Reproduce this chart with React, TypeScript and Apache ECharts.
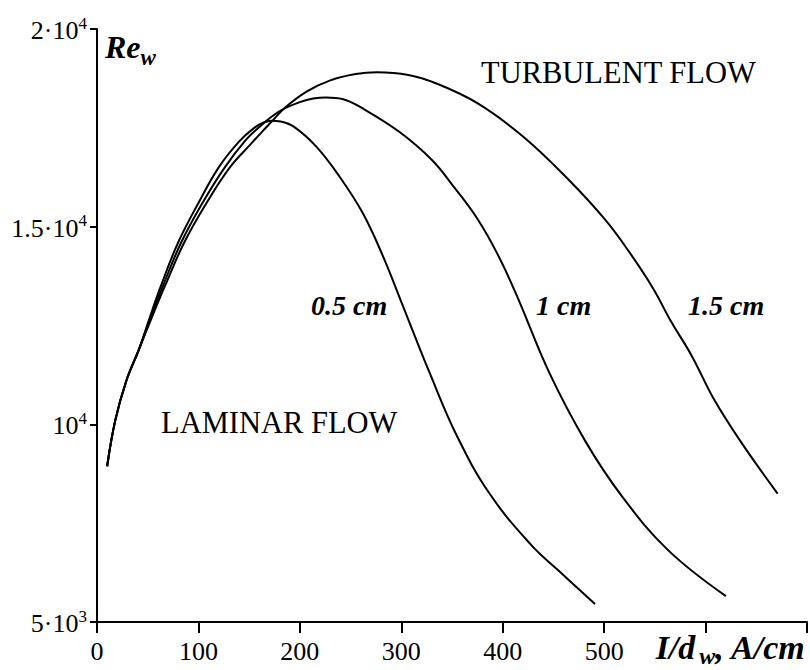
import React, { useEffect, useRef } from "react";
import * as echarts from "echarts";

const FONT = "'Liberation Serif', 'Times New Roman', serif";

// Axis ticks
const xTickLabels = [0, 100, 200, 300, 400, 500];
const yTickValues = [5000, 10000, 15000, 20000];
const yTickMantissa = ["5·10", "10", "1.5·10", "2·10"];
const yTickExponent = ["3", "4", "4", "4"];

// Re_w versus I/d_w for three wire diameters
const curveNames = ["0.5 cm", "1 cm", "1.5 cm"];

const curve05: [number, number][] = [
  [10, 8940], [18, 10100], [29, 11110], [41, 11870], [52, 12700], [63, 13500],
  [80, 14600], [100, 15600], [120, 16500], [140, 17150], [155, 17500], [165, 17640],
  [172, 17680], [181, 17660], [194, 17530], [216, 17030], [239, 16270], [262, 15345],
  [282, 14250], [300, 13100], [328, 11300], [355, 9700], [387, 8249], [428, 6950],
  [455, 6300], [491, 5454],
];

const curve10: [number, number][] = [
  [10, 8940], [18, 10100], [29, 11110], [41, 11870], [53, 12700], [65, 13500],
  [83, 14600], [104, 15600], [126, 16500], [147, 17200], [160, 17520], [172, 17780],
  [185, 17990], [200, 18150], [213, 18240], [226, 18270], [242, 18230], [262, 17990],
  [298, 17400], [330, 16692], [352, 16000], [375, 15200], [395, 14300], [414, 13250],
  [446, 11300], [482, 9550], [518, 8165], [563, 6818], [620, 5656],
];

const curve15: [number, number][] = [
  [10, 8940], [18, 10100], [29, 11110], [41, 11870], [54, 12700], [67, 13500],
  [86, 14600], [108, 15600], [131, 16500], [152, 17100], [162, 17380], [172, 17650],
  [185, 18000], [207, 18420], [230, 18700], [255, 18860], [276, 18906], [307, 18838],
  [334, 18628], [375, 18123], [420, 17281], [465, 16187], [501, 15177], [525, 14350],
  [548, 13450], [566, 12600], [586, 11750], [609, 10600], [636, 9512], [671, 8249],
];

const curves = [curve05, curve10, curve15];

export default function App() {
  const ref = useRef<HTMLDivElement>(null);

  useEffect(() => {
    if (!ref.current) return;
    const chart = echarts.init(ref.current, undefined, { renderer: "svg" });

    const boldItalic = {
      fontFamily: FONT,
      fontWeight: "bold",
      fontStyle: "italic",
      fill: "#000",
    };

    chart.setOption({
      animation: false,
      backgroundColor: "#ffffff",
      grid: { left: 97, right: 3, top: 29, bottom: 48, containLabel: false },
      xAxis: {
        type: "value",
        min: 0,
        max: 700,
        interval: 100,
        axisLine: { show: true, lineStyle: { color: "#000", width: 2 } },
        axisTick: { show: true, inside: false, length: 11, lineStyle: { color: "#000", width: 2 } },
        axisLabel: {
          formatter: (v: number) => (xTickLabels.includes(v) ? String(v) : ""),
          color: "#000",
          fontFamily: FONT,
          fontSize: 26,
          margin: 16,
        },
        splitLine: { show: false },
      },
      yAxis: {
        type: "value",
        min: 5000,
        max: 20000,
        interval: 5000,
        axisLine: { show: true, lineStyle: { color: "#000", width: 2 } },
        axisTick: { show: true, inside: false, length: 7, lineStyle: { color: "#000", width: 2 } },
        axisLabel: {
          formatter: (v: number) => {
            const i = yTickValues.indexOf(v);
            return i < 0 ? "" : `{m|${yTickMantissa[i]}}{s|${yTickExponent[i]}}`;
          },
          margin: 10,
          rich: {
            m: { fontFamily: FONT, fontSize: 26, color: "#000", verticalAlign: "bottom" },
            s: { fontFamily: FONT, fontSize: 17, color: "#000", verticalAlign: "top", padding: [0, 0, 12, 0] },
          },
        },
        splitLine: { show: false },
      },
      series: curves.map((data, i) => ({
        name: curveNames[i],
        type: "line",
        data,
        showSymbol: false,
        smooth: 0.4,
        lineStyle: { color: "#000", width: 2 },
        z: 3,
      })),
      graphic: [
        {
          type: "text",
          left: 105,
          top: 31,
          style: {
            text: "{m|Re}{s|w}",
            rich: {
              m: { ...boldItalic, fontSize: 32, verticalAlign: "top" },
              s: { ...boldItalic, fontSize: 23, verticalAlign: "top", padding: [15, 0, 0, 0] },
            },
          },
        },
        {
          type: "text",
          right: 4,
          top: 630,
          style: {
            text: "{m|I/d}{s|w}{m|, A/cm}",
            rich: {
              m: { ...boldItalic, fontSize: 34, verticalAlign: "top" },
              s: { ...boldItalic, fontSize: 24, verticalAlign: "top", padding: [14, 0, 0, 4] },
            },
          },
        },
        {
          type: "text",
          left: 481,
          top: 57,
          style: { text: "TURBULENT FLOW", fontFamily: FONT, fontSize: 30.5, fill: "#000" },
        },
        {
          type: "text",
          left: 161,
          top: 407,
          style: { text: "LAMINAR FLOW", fontFamily: FONT, fontSize: 30.5, fill: "#000" },
        },
        {
          type: "text",
          left: 311,
          top: 291,
          style: { text: curveNames[0], ...boldItalic, fontSize: 28 },
        },
        {
          type: "text",
          left: 536,
          top: 291,
          style: { text: curveNames[1], ...boldItalic, fontSize: 28 },
        },
        {
          type: "text",
          left: 688,
          top: 291,
          style: { text: curveNames[2], ...boldItalic, fontSize: 28 },
        },
      ],
    });

    return () => chart.dispose();
  }, []);

  return (
    <div
      ref={ref}
      style={{ position: "absolute", left: 0, top: 0, width: 810, height: 670, background: "#fff" }}
    />
  );
}
